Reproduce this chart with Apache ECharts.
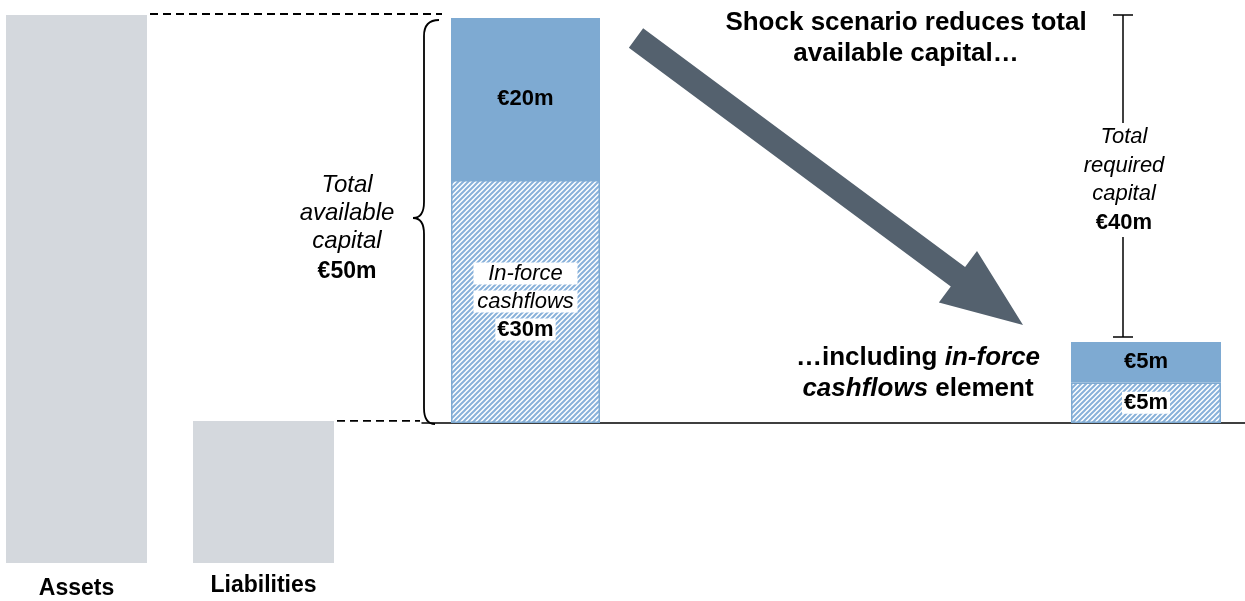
<!DOCTYPE html>
<html><head><meta charset="utf-8">
<script src="https://cdn.jsdelivr.net/npm/echarts@6/dist/echarts.min.js"></script>
<style>html,body{margin:0;padding:0;background:#fff}#c{width:1245px;height:601px}</style>
</head><body><div id="c"></div>
<script>
// ---- data ----
const categories = ['Assets', 'Liabilities'];
const balanceValues = [67.5, 17.5];
const availableCategory = ['Available capital'];
const inForceAvailable = [30];
const otherAvailable = [20];
const totalAvailable = [50];
const shockedCategory = ['Shocked capital'];
const inForceShocked = [5];
const otherShocked = [5];
const requiredCapital = [40];

// ---- style ----
const FF = '"Liberation Sans", Arial, sans-serif';
const BLUE = '#7eaad2';
const GREY = '#d4d8dd';
const ARROW = '#54616e';

function hatch() {
  const s = 5;
  const c = document.createElement('canvas'); c.width = s; c.height = s;
  const g = c.getContext('2d');
  g.fillStyle = '#fff'; g.fillRect(0, 0, s, s);
  g.strokeStyle = '#88b1da'; g.lineWidth = 2;
  g.beginPath();
  g.moveTo(-1, s + 1); g.lineTo(s + 1, -1);
  g.moveTo(-1, 1); g.lineTo(1, -1);
  g.moveTo(s - 1, s + 1); g.lineTo(s + 1, s - 1);
  g.stroke();
  return c;
}
const HATCH = { image: hatch(), repeat: 'repeat' };

const euro = v => '€' + v + 'm';
const valLabel = { show: true, position: 'inside', color: '#000', fontFamily: FF, fontWeight: 'bold', fontSize: 22, textBorderWidth: 0, formatter: p => euro(p.value) };
const catLabel = { fontFamily: FF, fontWeight: 'bold', fontSize: 23, color: '#000', margin: 14 };

const chart = echarts.init(document.getElementById('c'), null, { renderer: 'canvas' });

chart.setOption({
  animation: false,
  backgroundColor: '#fff',
  grid: [
    { left: 6, width: 141, top: 15, bottom: 38 },
    { left: 193, width: 141, top: 15, bottom: 38 },
    { left: 451, width: 149, top: 18, bottom: 178 },
    { left: 1071, width: 150, top: 18, bottom: 178 },
    { left: 422, right: 0, top: 18, bottom: 178 }
  ],
  xAxis: [
    { gridIndex: 0, type: 'category', data: [categories[0]], axisLine: { show: false }, axisTick: { show: false }, axisLabel: catLabel },
    { gridIndex: 1, type: 'category', data: [categories[1]], axisLine: { show: false }, axisTick: { show: false }, axisLabel: Object.assign({}, catLabel, { margin: 11 }) },
    { gridIndex: 2, type: 'category', data: availableCategory, show: false },
    { gridIndex: 3, type: 'category', data: shockedCategory, show: false },
    { gridIndex: 4, type: 'value', min: 0, max: 1, axisLine: { show: true, onZero: false, lineStyle: { color: '#000', width: 1.5 } },
      axisTick: { show: false }, axisLabel: { show: false }, splitLine: { show: false } }
  ],
  yAxis: [
    { gridIndex: 0, type: 'value', min: 0, max: 67.5, show: false },
    { gridIndex: 1, type: 'value', min: 0, max: 67.5, show: false },
    { gridIndex: 2, type: 'value', min: 0, max: 50, show: false },
    { gridIndex: 3, type: 'value', min: 0, max: 50, show: false },
    { gridIndex: 4, type: 'value', min: 0, max: 50, show: false }
  ],
  series: [
    { type: 'bar', xAxisIndex: 0, yAxisIndex: 0, data: [balanceValues[0]], barWidth: '100%', itemStyle: { color: GREY }, silent: true },
    { type: 'bar', xAxisIndex: 1, yAxisIndex: 1, data: [balanceValues[1]], barWidth: '100%', itemStyle: { color: GREY }, silent: true },
    { type: 'bar', xAxisIndex: 2, yAxisIndex: 2, stack: 'av', data: inForceAvailable, barWidth: '100%',
      itemStyle: { color: HATCH, borderColor: BLUE, borderWidth: 1.5 },
      label: { show: true, position: 'inside', textBorderWidth: 0,
        formatter: p => '{i|In-force}\n{i|cashflows}\n{b|' + euro(p.value) + '}',
        rich: {
          i: { fontFamily: FF, fontStyle: 'italic', fontSize: 22, color: '#000', lineHeight: 28, width: 104, align: 'center', backgroundColor: '#fff' },
          b: { fontFamily: FF, fontWeight: 'bold', fontSize: 22, color: '#000', lineHeight: 28, padding: [0, 2], backgroundColor: '#fff' }
        } } },
    { type: 'bar', xAxisIndex: 2, yAxisIndex: 2, stack: 'av', data: otherAvailable, barWidth: '100%',
      itemStyle: { color: BLUE }, label: valLabel },
    { type: 'bar', xAxisIndex: 3, yAxisIndex: 3, stack: 'sh', data: inForceShocked, barWidth: '100%',
      itemStyle: { color: HATCH, borderColor: BLUE, borderWidth: 1.5 },
      label: Object.assign({}, valLabel, { backgroundColor: '#fff', lineHeight: 22, padding: [0, 2] }) },
    { type: 'bar', xAxisIndex: 3, yAxisIndex: 3, stack: 'sh', data: otherShocked, barWidth: '100%',
      itemStyle: { color: BLUE }, label: valLabel },
    // brace + total available capital
    { type: 'custom', xAxisIndex: 2, yAxisIndex: 2, data: [[0, totalAvailable[0]]], silent: true,
      renderItem: (params, api) => {
        const top = api.coord([0, api.value(1)]);
        const bot = api.coord([0, 0]);
        const half = api.size([1, 0])[0] / 2;
        const left = top[0] - half;
        const endX = left - 12, spine = left - 27, tip = left - 38;
        const t = top[1] + 2, b = bot[1] + 1, m = (t + b) / 2 - 4, r = 16;
        const d = `M${endX} ${t} Q${spine} ${t} ${spine} ${t + r} L${spine} ${m - r} Q${spine} ${m} ${tip} ${m} ` +
                  `Q${spine} ${m} ${spine} ${m + r} L${spine} ${b - r} Q${spine} ${b} ${endX - 4} ${b}`;
        return { type: 'group', children: [
          { type: 'path', shape: { pathData: d }, style: { stroke: '#000', fill: null, lineWidth: 1.8 } },
          { type: 'text', x: tip - 66, y: m + 12, style: {
              text: '{i|Total}\n{i|available}\n{i|capital}\n{b|' + euro(api.value(1)) + '}',
              align: 'center', verticalAlign: 'middle',
              rich: {
                i: { fontFamily: FF, fontStyle: 'italic', fontSize: 24, fill: '#000', lineHeight: 28 },
                b: { fontFamily: FF, fontWeight: 'bold', fontSize: 23, fill: '#000', lineHeight: 33 }
              } } }
        ] };
      } },
    // required capital I-beam
    { type: 'custom', xAxisIndex: 3, yAxisIndex: 3, data: [[0, inForceShocked[0] + otherShocked[0], requiredCapital[0]]], silent: true,
      renderItem: (params, api) => {
        const low = api.coord([0, api.value(1)]);
        const high = api.coord([0, api.value(1) + api.value(2)]);
        const x = low[0] - 23;
        const y1 = low[1] - 5, y2 = high[1] - 3, w = 10;
        const mid = (y1 + y2) / 2;
        const ls = { stroke: '#000', lineWidth: 1.5 };
        return { type: 'group', children: [
          { type: 'line', shape: { x1: x, y1: y1, x2: x, y2: y2 }, style: ls },
          { type: 'line', shape: { x1: x - w, y1: y1, x2: x + w, y2: y1 }, style: ls },
          { type: 'line', shape: { x1: x - w, y1: y2, x2: x + w, y2: y2 }, style: ls },
          { type: 'text', x: x + 1, y: mid + 4, style: {
              text: '{i|Total}\n{i|required}\n{i|capital}\n{b|' + euro(api.value(2)) + '}',
              align: 'center', verticalAlign: 'middle', backgroundColor: '#fff', padding: [0, 3],
              rich: {
                i: { fontFamily: FF, fontStyle: 'italic', fontSize: 22, fill: '#000', lineHeight: 28.5 },
                b: { fontFamily: FF, fontWeight: 'bold', fontSize: 22, fill: '#000', lineHeight: 28.5 }
              } } }
        ] };
      } }
  ]
});

// annotations derived from the axes
const assetsTop = chart.convertToPixel({ xAxisIndex: 0, yAxisIndex: 0 }, [0, balanceValues[0]]);
const liabTop = chart.convertToPixel({ xAxisIndex: 1, yAxisIndex: 1 }, [0, balanceValues[1]]);
const capTop = chart.convertToPixel({ xAxisIndex: 2, yAxisIndex: 2 }, [0, totalAvailable[0]]);
const capLeft = capTop[0] - 149 / 2;
const dash = { stroke: '#000', lineWidth: 1.8, lineDash: [8, 5] };

// arrow geometry
const tail = [636, 38], tipPt = [1023, 325];
const dx = tipPt[0] - tail[0], dy = tipPt[1] - tail[1], L = Math.hypot(dx, dy);
const u = [dx / L, dy / L], n = [-u[1], u[0]];
const base = [tipPt[0] - u[0] * 81, tipPt[1] - u[1] * 81];
const P = (p, k) => [p[0] + n[0] * k, p[1] + n[1] * k];
const arrowPts = [P(tail, 12), P(base, 12), P(base, 32), tipPt, P(base, -32), P(base, -12), P(tail, -12)];

chart.setOption({
  graphic: [
    { type: 'line', silent: true, shape: { x1: assetsTop[0] + 141 / 2 + 3, y1: assetsTop[1] - 1, x2: capLeft - 9, y2: assetsTop[1] - 1 }, style: dash },
    { type: 'line', silent: true, shape: { x1: liabTop[0] + 141 / 2 + 3, y1: liabTop[1], x2: capLeft - 31, y2: liabTop[1] }, style: dash },
    { type: 'polygon', silent: true, shape: { points: arrowPts }, style: { fill: ARROW } },
    { type: 'text', silent: true, x: 906, y: 38, style: {
        text: 'Shock scenario reduces total\navailable capital…', fill: '#000',
        font: 'bold 26px ' + FF, align: 'center', verticalAlign: 'middle', lineHeight: 31 } },
    { type: 'text', silent: true, x: 918, y: 373, style: {
        text: '{b|…including }{bi|in-force}\n{bi|cashflows}{b| element}', align: 'center', verticalAlign: 'middle',
        rich: {
          b: { fontFamily: FF, fontWeight: 'bold', fontSize: 26, fill: '#000', lineHeight: 31 },
          bi: { fontFamily: FF, fontWeight: 'bold', fontStyle: 'italic', fontSize: 26, fill: '#000', lineHeight: 31 }
        } } }
  ]
});
</script>
</body></html>
